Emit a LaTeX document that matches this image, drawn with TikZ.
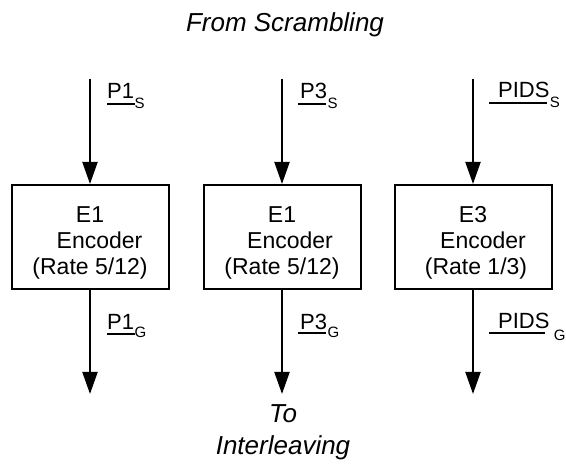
\documentclass[tikz,border=0pt]{standalone}
\usepackage{fontspec}
\setmainfont{Liberation Sans}
\usetikzlibrary{arrows.meta}
\begin{document}
\begin{tikzpicture}[x=1pt,y=-1pt,
  enc/.style={draw, line width=2pt, minimum width=157pt, minimum height=104pt, inner sep=0pt, align=center, font=\fontsize{23}{26}\selectfont},
  flow/.style={line width=2pt, -{Triangle[length=22pt,width=15pt]}},
  lab/.style={inner sep=0pt, anchor=base west, font=\fontsize{22}{24}\selectfont},
  sublab/.style={inner sep=0pt, anchor=base west, font=\fontsize{15}{16}\selectfont},
  ul/.style={line width=1.3pt},
  ttl/.style={font=\fontsize{26}{32}\selectfont\itshape, inner sep=0pt, align=center}]
\useasboundingbox (0,0) rectangle (566,465);

\node[ttl, anchor=base] (from) at (285,32) {From Scrambling};
\node[ttl] (to) at (283,432.5) {To\\Interleaving};

\node[enc] (e1) at (90,237) {\rule{0pt}{27pt}E1\\\hspace*{19pt}Encoder\\(Rate 5/12)};
\node[enc] (e2) at (282,237) {\rule{0pt}{27pt}E1\\\hspace*{16pt}Encoder\\(Rate 5/12)};
\node[enc] (e3) at (473,237) {\rule{0pt}{27pt}E3\\\hspace*{20pt}Encoder\\\hspace*{6pt}(Rate 1/3)};

\coordinate (in1) at (90,79);
\coordinate (in2) at (282,79);
\coordinate (in3) at (473,79);
\coordinate (out1) at (90,394);
\coordinate (out2) at (282,394);
\coordinate (out3) at (473,394);

\draw[flow] (in1) -- (e1.north);
\draw[flow] (in2) -- (e2.north);
\draw[flow] (in3) -- (e3.north);
\draw[flow] (e1.south) -- (out1);
\draw[flow] (e2.south) -- (out2);
\draw[flow] (e3.south) -- (out3);

% input labels
\node[lab] (p1s) at (107,99) {P1};
\node[sublab] (p1ss) at (p1s.base east) [yshift=-10pt] {S};
\node[lab] (p3s) at (300,99) {P3};
\node[sublab] (p3ss) at (p3s.base east) [yshift=-10pt] {S};
\node[lab] (pidss) at (498,98) {PIDS};
\node[sublab] (pidsss) at (pidss.base east) [yshift=-10pt] {S};
\draw[ul] (107,104) -- (135,104);
\draw[ul] (298,104) -- (326,104);
\draw[ul] (489,103) -- (547,103);

% output labels
\node[lab] (p1g) at (107,330) {P1};
\node[sublab] (p1gs) at (p1g.base east) [yshift=-8pt] {G};
\node[lab] (p3g) at (300,330) {P3};
\node[sublab] (p3gs) at (p3g.base east) [yshift=-8pt] {G};
\node[lab] (pidsg) at (498,329) {PIDS};
\node[sublab] (pidsgs) at ([xshift=4pt]pidsg.base east) [yshift=-12pt] {G};
\draw[ul] (107,334) -- (135,334);
\draw[ul] (298,333) -- (326,333);
\draw[ul] (489,333) -- (545,333);
\end{tikzpicture}
\end{document}
